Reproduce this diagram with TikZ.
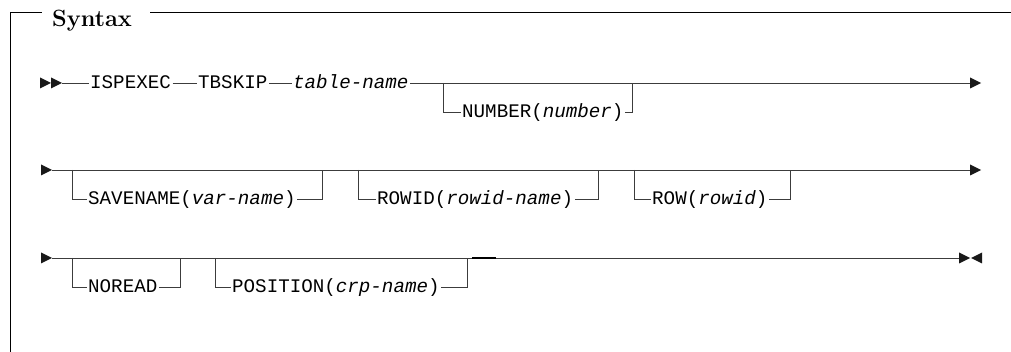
\documentclass[tikz,border=0pt]{standalone}
\usepackage{fontspec}
\newfontfamily\rrfont{Liberation Mono}
\definecolor{railc}{HTML}{3C3C3C}
\begin{document}
\begin{tikzpicture}[x=1pt,y=-1pt,
  rail/.style={draw=railc, line width=0.9pt},
  frame/.style={draw=black, line width=1pt},
  kw/.style={inner xsep=1.5pt, inner ysep=0pt, anchor=base west, text=black,
    font=\rrfont\fontsize{19.2}{20}\selectfont},
  tip/.style={fill=black!90}]
\useasboundingbox (0,0) rectangle (1011,352);
% frame and title
\node[anchor=base west, inner sep=0pt, font=\bfseries\fontsize{23.5}{24}\selectfont] (title) at (52,27) {Syntax};
\coordinate (fa) at (10,352);
\coordinate (fb) at (10,13);
\coordinate (fc) at (42,13);
\coordinate (fd) at (150,13);
\coordinate (fe) at (1011,13);
\draw[frame] (fa) -- (fb) -- (fc);
\draw[frame] (fd) -- (fe);
% ---------- row 1 ----------
\coordinate (r1s) at (62,83);
\coordinate (r1e) at (970,83);
\fill[tip] (40,77.5) -- (51,83) -- (40,88.5) -- cycle;
\fill[tip] (51,77.5) -- (62,83) -- (51,88.5) -- cycle;
\fill[tip] (970,77.5) -- (981,83) -- (970,88.5) -- cycle;
\node[kw] (isp) at (88.5,89) {ISPEXEC};
\node[kw] (tbs) at (196.5,89) {TBSKIP};
\node[kw] (tn) at (291.5,89) {\itshape table-name};
\draw[rail] (r1s) -- (r1s -| isp.west);
\draw[rail] (isp.east |- r1s) -- (tbs.west |- r1s);
\draw[rail] (tbs.east |- r1s) -- (tn.west |- r1s);
\draw[rail] (tn.east |- r1s) -- (r1e);
\coordinate (b1) at (0,112);
\coordinate (n1l) at (443,83);
\coordinate (n1r) at (632,83);
\node[kw] (num) at (460.5,118) {NUMBER(\textit{number})};
\draw[rail] (n1l) |- (b1 -| num.west);
\draw[rail] (num.east |- b1) -| (n1r);
% ---------- row 2 ----------
\coordinate (r2s) at (52,170);
\coordinate (r2e) at (970,170);
\fill[tip] (41,164.5) -- (52,170) -- (41,175.5) -- cycle;
\fill[tip] (970,164.5) -- (981,170) -- (970,175.5) -- cycle;
\draw[rail] (r2s) -- (r2e);
\coordinate (b2) at (0,199);
\coordinate (s2l) at (72,170);
\coordinate (s2r) at (322,170);
\node[kw] (sav) at (86.5,205) {SAVENAME(\textit{var-name})};
\draw[rail] (s2l) |- (b2 -| sav.west);
\draw[rail] (sav.east |- b2) -| (s2r);
\coordinate (w2l) at (358,170);
\coordinate (w2r) at (598,170);
\node[kw] (rid) at (375.5,205) {ROWID(\textit{rowid-name})};
\draw[rail] (w2l) |- (b2 -| rid.west);
\draw[rail] (rid.east |- b2) -| (w2r);
\coordinate (o2l) at (634,170);
\coordinate (o2r) at (790,170);
\node[kw] (row) at (650.5,205) {ROW(\textit{rowid})};
\draw[rail] (o2l) |- (b2 -| row.west);
\draw[rail] (row.east |- b2) -| (o2r);
% ---------- row 3 ----------
\coordinate (r3s) at (52,258);
\coordinate (r3e) at (959,258);
\fill[tip] (41,252.5) -- (52,258) -- (41,263.5) -- cycle;
\fill[tip] (959,252.5) -- (970,258) -- (959,263.5) -- cycle;
\fill[tip] (982,252.5) -- (971,258) -- (982,263.5) -- cycle;
\draw[rail] (r3s) -- (r3e);
\coordinate (k3a) at (472,258);
\coordinate (k3b) at (496,258);
\draw[rail, line width=1.8pt, draw=black] (k3a) -- (k3b);
\coordinate (b3) at (0,287);
\coordinate (nr3l) at (72,258);
\coordinate (nr3r) at (180,258);
\node[kw] (nor) at (86.5,293) {NOREAD};
\draw[rail] (nr3l) |- (b3 -| nor.west);
\draw[rail] (nor.east |- b3) -| (nr3r);
\coordinate (p3l) at (215,258);
\coordinate (p3r) at (467,258);
\node[kw] (pos) at (230.5,293) {POSITION(\textit{crp-name})};
\draw[rail] (p3l) |- (b3 -| pos.west);
\draw[rail] (pos.east |- b3) -| (p3r);
\end{tikzpicture}
\end{document}
